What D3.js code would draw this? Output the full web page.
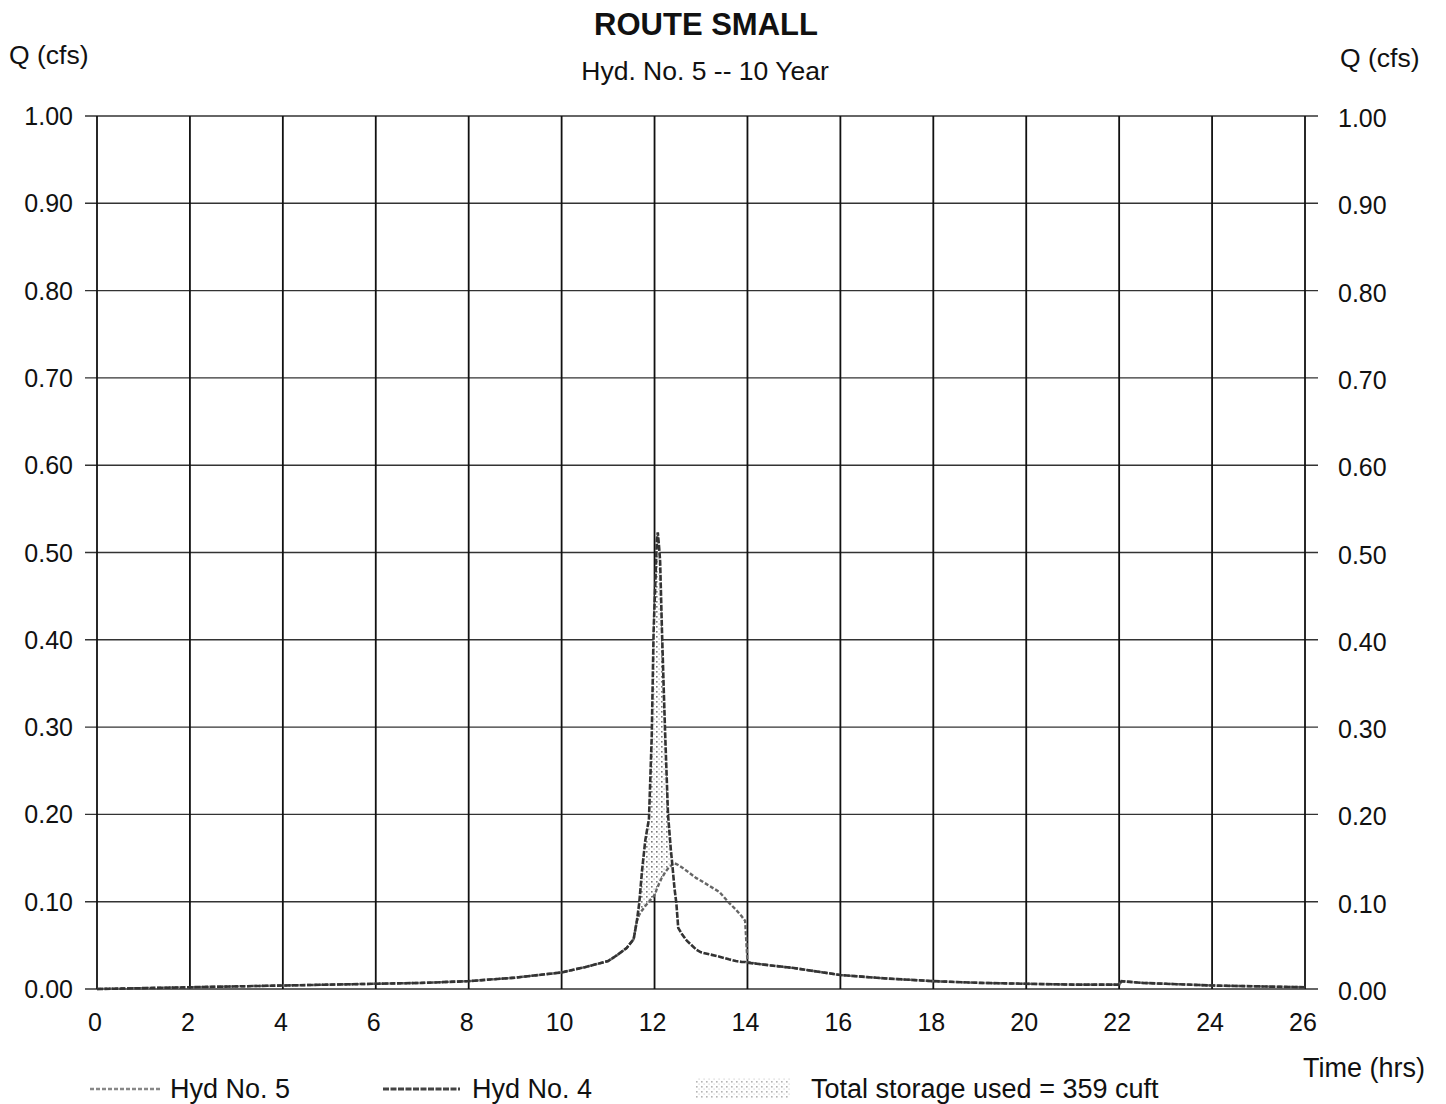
<!DOCTYPE html>
<html>
<head>
<meta charset="utf-8">
<script src="https://cdn.jsdelivr.net/npm/d3@7"></script>
<style>
  html, body { margin: 0; padding: 0; background: #fff; }
  svg { display: block; }
  text { font-family: "Liberation Sans", Arial, sans-serif; fill: #111; }
</style>
</head>
<body>
<div id="chart"></div>
<script>
// ---- data ----
const titleText = "ROUTE SMALL";
const subtitleText = "Hyd. No. 5 -- 10 Year";
const xTicks = [0, 2, 4, 6, 8, 10, 12, 14, 16, 18, 20, 22, 24, 26];
const yTicks = [0, 0.1, 0.2, 0.3, 0.4, 0.5, 0.6, 0.7, 0.8, 0.9, 1.0];

const timeHrs = [0,1,2,3,4,5,6,7,8,9,10,10.5,11,11.2,11.4,11.55,11.62,11.67,11.73,11.8,11.88,11.94,11.98,12.02,12.05,12.07,12.1,12.12,12.16,12.2,12.23,12.29,12.35,12.38,12.43,12.47,12.51,12.6,12.7,12.9,13.0,13.4,13.6,13.75,13.88,13.95,14.0,14.2,14.5,15,16,17,18,19,20,21,22,22.05,22.5,23,24,25,26];

// Hyd No. 4 (inflow)
const hyd4 = [0.000,0.001,0.002,0.003,0.004,0.005,0.006,0.007,0.009,0.013,0.019,0.025,0.032,0.039,0.047,0.057,0.078,0.098,0.135,0.170,0.195,0.290,0.410,0.470,0.515,0.523,0.505,0.490,0.410,0.340,0.290,0.200,0.160,0.144,0.115,0.098,0.070,0.062,0.055,0.045,0.042,0.037,0.034,0.032,0.031,0.031,0.030,0.029,0.027,0.024,0.016,0.012,0.009,0.007,0.006,0.005,0.005,0.009,0.007,0.006,0.004,0.003,0.002];

// Hyd No. 5 (routed outflow)
const hyd5 = [0.000,0.001,0.002,0.003,0.004,0.005,0.006,0.007,0.009,0.013,0.019,0.025,0.032,0.039,0.047,0.057,0.078,0.085,0.090,0.095,0.100,0.104,0.106,0.110,0.115,0.117,0.121,0.123,0.128,0.131,0.134,0.138,0.141,0.143,0.144,0.143,0.142,0.139,0.135,0.127,0.124,0.111,0.099,0.091,0.083,0.078,0.031,0.029,0.027,0.024,0.016,0.012,0.009,0.007,0.006,0.005,0.005,0.009,0.007,0.006,0.004,0.003,0.002];

const legendLabels = ["Hyd No. 5", "Hyd No. 4", "Total storage used = 359 cuft"];

// ---- layout ----
const W = 1446, H = 1104;
const svg = d3.select("#chart").append("svg").attr("width", W).attr("height", H);

const defs = svg.append("defs");
const pat = defs.append("pattern").attr("id", "dots")
  .attr("patternUnits", "userSpaceOnUse").attr("width", 5).attr("height", 5);
pat.append("rect").attr("width", 5).attr("height", 5).attr("fill", "#fff");
pat.append("rect").attr("x", 1).attr("y", 1).attr("width", 1.6).attr("height", 1.6).attr("fill", "#777");
pat.append("rect").attr("x", 3.5).attr("y", 3.5).attr("width", 1.2).attr("height", 1.2).attr("fill", "#aaa");

const x = d3.scaleLinear().domain([0, 26]).range([97, 1305]);
const y = d3.scaleLinear().domain([0, 1]).range([989, 116]);

// grid: horizontal lines
const gH = svg.append("g");
gH.selectAll("line").data(yTicks).join("line")
  .attr("x1", 85).attr("x2", 1318)
  .attr("y1", d => y(d)).attr("y2", d => y(d))
  .attr("stroke", "#333").attr("stroke-width", 1.4);

// grid: vertical lines
const gV = svg.append("g");
gV.selectAll("line").data(xTicks).join("line")
  .attr("x1", d => x(d)).attr("x2", d => x(d))
  .attr("y1", y(1)).attr("y2", y(0))
  .attr("stroke", "#111").attr("stroke-width", 1.8);

// left tick labels
svg.append("g").selectAll("text").data(yTicks).join("text")
  .attr("x", 73).attr("y", d => y(d)).attr("dy", "0.36em")
  .attr("text-anchor", "end").attr("font-size", 25)
  .text(d => d.toFixed(2));

// right tick labels
svg.append("g").selectAll("text").data(yTicks).join("text")
  .attr("x", 1338).attr("y", d => y(d) + 2).attr("dy", "0.36em")
  .attr("text-anchor", "start").attr("font-size", 25)
  .text(d => d.toFixed(2));

// bottom tick labels
svg.append("g").selectAll("text").data(xTicks).join("text")
  .attr("x", d => x(d) - 2).attr("y", 1031)
  .attr("text-anchor", "middle").attr("font-size", 25)
  .text(d => d);

// storage area (inflow above outflow)
const idx = d3.range(timeHrs.length);
const area = d3.area()
  .x(i => x(timeHrs[i]))
  .y0(i => y(hyd5[i]))
  .y1(i => y(Math.max(hyd4[i], hyd5[i])));
svg.append("path").datum(idx).attr("d", area)
  .attr("fill", "url(#dots)").attr("stroke", "none");

const line4 = d3.line().x(i => x(timeHrs[i])).y(i => y(hyd4[i]));
const line5 = d3.line().x(i => x(timeHrs[i])).y(i => y(hyd5[i]));

svg.append("path").datum(idx).attr("d", line5)
  .attr("fill", "none").attr("stroke", "#666").attr("stroke-width", 2.4)
  .attr("stroke-dasharray", "4,2");
svg.append("path").datum(idx).attr("d", line4)
  .attr("fill", "none").attr("stroke", "#333").attr("stroke-width", 2.6)
  .attr("stroke-dasharray", "6,1.5");

// titles
svg.append("text").attr("x", 706).attr("y", 35).attr("text-anchor", "middle")
  .attr("font-size", 31).attr("font-weight", "bold").text(titleText);
svg.append("text").attr("x", 705).attr("y", 80).attr("text-anchor", "middle")
  .attr("font-size", 26.5).text(subtitleText);
svg.append("text").attr("x", 9).attr("y", 64).attr("font-size", 26.5).text("Q (cfs)");
svg.append("text").attr("x", 1340).attr("y", 67).attr("font-size", 26.5).text("Q (cfs)");
svg.append("text").attr("x", 1425).attr("y", 1077).attr("text-anchor", "end")
  .attr("font-size", 27).text("Time (hrs)");

// legend
const lg = svg.append("g");
lg.append("line").attr("x1", 90).attr("x2", 160).attr("y1", 1089).attr("y2", 1089)
  .attr("stroke", "#888").attr("stroke-width", 2.4).attr("stroke-dasharray", "4,2");
lg.append("text").attr("x", 170).attr("y", 1098).attr("font-size", 27).text(legendLabels[0]);
lg.append("line").attr("x1", 383).attr("x2", 460).attr("y1", 1089).attr("y2", 1089)
  .attr("stroke", "#444").attr("stroke-width", 2.8).attr("stroke-dasharray", "6,1.5");
lg.append("text").attr("x", 472).attr("y", 1098).attr("font-size", 27).text(legendLabels[1]);
lg.append("rect").attr("x", 695).attr("y", 1078).attr("width", 95).attr("height", 20)
  .attr("fill", "url(#dots)").attr("opacity", 0.55);
lg.append("text").attr("x", 811).attr("y", 1098).attr("font-size", 27).text(legendLabels[2]);
</script>
</body>
</html>
